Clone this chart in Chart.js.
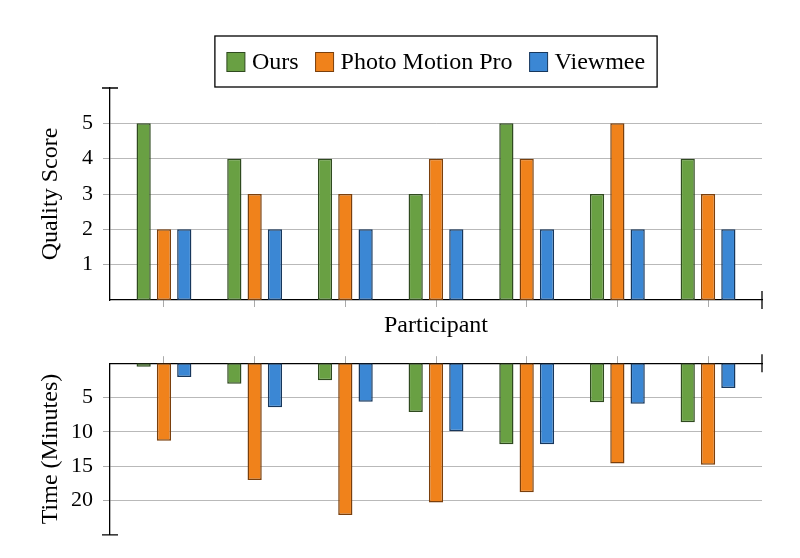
<!DOCTYPE html>
<html>
<head>
<meta charset="utf-8">
<script src="https://cdn.jsdelivr.net/npm/chart.js@4"></script>
<style>
  html, body { margin: 0; padding: 0; background: #fff; }
  #wrap { position: relative; width: 800px; height: 558px; overflow: hidden; }
  #quality { position: absolute; left: 0; top: 0; }
  #time { position: absolute; left: 0; top: 340px; }
</style>
</head>
<body>
<div id="wrap">
  <canvas id="quality" width="800" height="340"></canvas>
  <canvas id="time" width="800" height="218"></canvas>
</div>
<script>
// Data
const participants = ['1', '2', '3', '4', '5', '6', '7'];
const seriesNames = ['Ours', 'Photo Motion Pro', 'Viewmee'];

const qualityOurs = [5, 4, 4, 3, 5, 3, 4];
const qualityPhotoMotion = [2, 3, 3, 4, 4, 5, 3];
const qualityViewmee = [2, 2, 2, 2, 2, 2, 2];

const timeOurs = [0.5, 3.0, 2.5, 7.1, 11.8, 5.7, 8.6];
const timePhotoMotion = [11.3, 17.0, 22.1, 20.3, 18.8, 14.6, 14.8];
const timeViewmee = [2.0, 6.4, 5.6, 9.9, 11.8, 5.9, 3.6];

const qualityTicks = [1, 2, 3, 4, 5];
const timeTicks = [5, 10, 15, 20];

const fills = ['#69a043', '#f0821b', '#3b87d4'];
const borders = ['#2f4a1f', '#7a3f0c', '#17375c'];

Chart.defaults.font.family = '"Liberation Serif", "Times New Roman", serif';
Chart.defaults.color = '#000';

function toPoints(values) {
  return values.map((v, i) => ({ x: i, y: v }));
}

function makeDatasets(lists) {
  return lists.map((values, i) => ({
    label: seriesNames[i],
    data: toPoints(values),
    backgroundColor: fills[i],
    borderColor: borders[i],
    borderWidth: 1.5,
    borderSkipped: false,
    categoryPercentage: 0.672,
    barPercentage: 0.7
  }));
}

function xScale(position, title) {
  return {
    type: 'linear',
    position: position,
    offset: false,
    min: -0.595,
    max: participants.length - 1 + 0.595,
    afterBuildTicks: (scale) => {
      scale.ticks = participants.map((_, i) => ({ value: i }));
    },
    afterFit: (scale) => { scale.height = position === 'bottom' ? 40 : 21; },
    ticks: { display: false },
    grid: { offset: false, drawOnChartArea: false, tickLength: 7, tickColor: '#aaa', tickWidth: 1 },
    border: { display: true, color: '#000', width: 1.3 },
    title: title
      ? { display: true, text: title, font: { size: 24 }, padding: { top: 0, bottom: 0 } }
      : { display: false }
  };
}

function yScale(max, ticks, title, reverse) {
  return {
    min: 0,
    max: max,
    reverse: reverse,
    afterBuildTicks: (scale) => {
      scale.ticks = ticks.map(v => ({ value: v }));
    },
    afterFit: (scale) => { scale.width = 110; },
    ticks: { font: { size: 22 }, padding: 10 },
    grid: { color: '#b9b9b9', lineWidth: 1, tickLength: 7, tickColor: '#aaa' },
    border: { display: true, color: '#000', width: 1.3 },
    title: { display: true, text: title, font: { size: 24 }, padding: { top: 36, bottom: 0 } }
  };
}

// little cross marks at the axis ends, pgfplots style
function axisEnds(yEnd, xEnd) {
  return {
    id: 'axisEnds',
    afterDraw(chart) {
      const { ctx, chartArea: a } = chart;
      const yy = yEnd === 'top' ? a.top : a.bottom;
      const xy = xEnd === 'bottom' ? a.bottom : a.top;
      ctx.save();
      ctx.strokeStyle = '#000';
      ctx.lineWidth = 1.3;
      ctx.beginPath();
      ctx.moveTo(a.left - 8, yy);
      ctx.lineTo(a.left + 8, yy);
      ctx.moveTo(a.right, xy - 9);
      ctx.lineTo(a.right, xy + 9);
      ctx.stroke();
      ctx.restore();
    }
  };
}

// boxed legend centred over the plot
const boxLegend = {
  id: 'boxLegend',
  afterDraw(chart) {
    const { ctx, chartArea: a } = chart;
    const sets = chart.data.datasets;
    const box = 18, gap = 7, spacing = 17, padX = 12;
    const top = 36, bottom = 87, mid = (top + bottom) / 2;
    ctx.save();
    ctx.font = '24px "Liberation Serif", "Times New Roman", serif';
    const widths = sets.map(d => ctx.measureText(d.label).width);
    const inner = widths.reduce((s, w) => s + box + gap + w, 0) + spacing * (sets.length - 1);
    const cx = (a.left + a.right) / 2;
    const left = cx - inner / 2 - padX;
    ctx.strokeStyle = '#000';
    ctx.lineWidth = 1.3;
    ctx.strokeRect(left, top, inner + 2 * padX, bottom - top);
    let x = left + padX;
    ctx.textBaseline = 'middle';
    ctx.textAlign = 'left';
    sets.forEach((d, i) => {
      ctx.fillStyle = d.backgroundColor;
      ctx.fillRect(x, mid - 9, box, 19);
      ctx.strokeStyle = d.borderColor;
      ctx.lineWidth = 1;
      ctx.strokeRect(x, mid - 9, box, 19);
      ctx.fillStyle = '#000';
      ctx.fillText(d.label, x + box + gap, mid + 1);
      x += box + gap + widths[i] + spacing;
    });
    ctx.restore();
  }
};

new Chart(document.getElementById('quality'), {
  type: 'bar',
  data: { datasets: makeDatasets([qualityOurs, qualityPhotoMotion, qualityViewmee]) },
  options: {
    responsive: false,
    animation: false,
    layout: { padding: { top: 88, right: 38, bottom: 0, left: 0 } },
    plugins: { legend: { display: false }, tooltip: { enabled: false } },
    scales: {
      x: xScale('bottom', 'Participant'),
      y: yScale(6, qualityTicks, 'Quality Score', false)
    }
  },
  plugins: [boxLegend, axisEnds('top', 'bottom')]
});

new Chart(document.getElementById('time'), {
  type: 'bar',
  data: { datasets: makeDatasets([timeOurs, timePhotoMotion, timeViewmee]) },
  options: {
    responsive: false,
    animation: false,
    layout: { padding: { top: 0, right: 38, bottom: 20, left: 0 } },
    plugins: { legend: { display: false }, tooltip: { enabled: false } },
    scales: {
      x: xScale('top', null),
      y: yScale(25, timeTicks, 'Time (Minutes)', true)
    }
  },
  plugins: [axisEnds('bottom', 'top')]
});
</script>
</body>
</html>
